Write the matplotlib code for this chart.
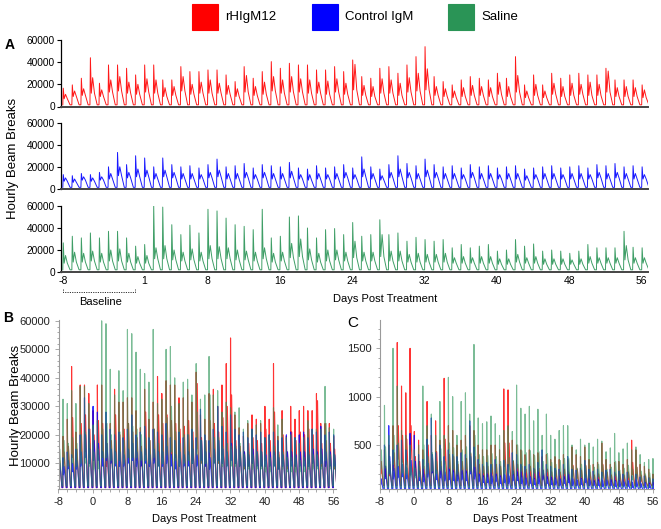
import numpy as np
import matplotlib
matplotlib.use('Agg')
import matplotlib.pyplot as plt
from matplotlib.patches import Rectangle
from matplotlib.lines import Line2D
from matplotlib.ticker import AutoMinorLocator
import matplotlib.transforms as mtransforms

plt.rcParams['font.family'] = ['Liberation Sans', 'DejaVu Sans']

# ---------------- data ----------------
days = list(range(-8, 57))          # day index of each daily activity cycle
series_names = ['rHIgM12', 'Control IgM', 'Saline']

# Hourly beam breaks (thousands): daily peak, secondary bump, shoulder level
red_peak = [16.5, 19.5, 25.5, 44, 21, 37.5, 37.5, 34.5,
            28.5, 37.5, 37.5, 24, 24, 36, 31.5, 31.5,
            33, 33, 28.5, 22.5, 36, 25.5, 31.5, 40.5,
            34.5, 39, 37.5, 37.5, 33, 33, 36, 31.5,
            42, 27, 25.5, 34.5, 36, 30, 37.5, 45,
            54, 27, 22.5, 19.5, 24, 27, 25.5, 24,
            30, 25.5, 45, 19.5, 28.5, 19.5, 30, 25.5,
            28.5, 30, 28.5, 28.5, 34.5, 24, 24, 24, 19.5]
red_second = [11, 14, 16, 26, 15, 24, 27, 22,
              20, 25, 24, 17, 18, 27, 20, 22,
              24, 21, 19, 16, 28, 18, 22, 27,
              24, 27, 25, 24, 22, 23, 25, 21,
              38, 19, 18, 25, 24, 21, 26, 30,
              34, 18, 16, 14, 17, 19, 18, 17,
              22, 18, 28, 14, 20, 14, 21, 18,
              21, 20, 22, 20, 32, 17, 18, 17, 15]
red_shoulder = [7, 9, 10, 12, 9, 13, 14, 12,
                11, 13, 12, 9, 10, 14, 11, 12,
                12, 12, 11, 9, 13, 10, 11, 14,
                12, 13, 13, 12, 12, 11, 13, 11,
                15, 10, 9, 12, 12, 10, 13, 14,
                15, 10, 9, 8, 9, 10, 10, 9,
                11, 9, 13, 8, 10, 8, 11, 9,
                10, 11, 10, 10, 13, 9, 9, 9, 8]
red_low = 1.5

blue_peak = [13, 12, 14, 13, 15, 20, 33, 22,
             30, 28, 20, 28, 22, 20, 21, 19,
             22, 27, 20, 21, 23, 19, 22, 21,
             20, 24, 19, 18, 21, 19, 20, 22,
             19, 29, 20, 18, 22, 30, 23, 21,
             27, 22, 20, 21, 19, 22, 20, 21,
             19, 20, 21, 18, 19, 20, 21, 19,
             20, 21, 19, 22, 21, 23, 20, 21, 20]
blue_second = [10, 9, 11, 10, 11, 14, 20, 15,
               18, 17, 14, 17, 15, 14, 14, 13,
               15, 17, 14, 14, 15, 13, 15, 14,
               14, 16, 13, 13, 14, 13, 14, 15,
               13, 18, 14, 12, 15, 18, 15, 14,
               17, 15, 14, 14, 13, 15, 14, 14,
               13, 14, 14, 12, 13, 14, 14, 13,
               14, 14, 13, 15, 14, 15, 14, 14, 13]
blue_shoulder = [7, 6, 8, 7, 8, 9, 12, 10,
                 11, 11, 9, 11, 10, 9, 9, 9,
                 10, 11, 9, 9, 10, 9, 10, 9,
                 9, 10, 9, 8, 9, 9, 9, 10,
                 9, 11, 9, 8, 10, 11, 10, 9,
                 11, 10, 9, 9, 9, 10, 9, 9,
                 9, 9, 9, 8, 9, 9, 9, 9,
                 9, 9, 9, 10, 9, 10, 9, 9, 9]
blue_low = 1.5

green_peak = [26.5, 32.5, 31, 35.5, 31, 37, 37, 31,
              23.5, 25, 60, 59, 43, 34, 42.5, 35.5,
              57, 55.5, 49, 43, 41.5, 38.5, 57, 31,
              32.5, 50, 51, 40, 31, 38.5, 39.5, 34,
              45, 32.5, 34, 47.5, 34, 35.5, 28, 31.5,
              29.5, 28, 29.5, 22, 25, 22, 23.5, 25,
              19, 20, 29.5, 23.5, 25.5, 19, 20, 19,
              17, 19, 25, 22, 22, 22, 37, 22.5, 22]
green_second = [15, 18, 17, 19, 17, 20, 21, 17,
                14, 15, 22, 24, 20, 18, 21, 18,
                24, 23, 22, 20, 19, 18, 22, 17,
                18, 26, 30, 21, 17, 20, 20, 18,
                28, 18, 18, 34, 19, 19, 16, 17,
                16, 16, 17, 13, 14, 13, 14, 14,
                12, 12, 16, 13, 14, 12, 12, 12,
                11, 12, 14, 13, 13, 13, 24, 13, 13]
green_shoulder = [8, 9, 9, 10, 9, 10, 10, 9,
                  8, 8, 12, 12, 11, 10, 11, 10,
                  12, 12, 12, 11, 11, 10, 12, 9,
                  10, 13, 14, 11, 9, 10, 11, 10,
                  13, 10, 10, 14, 10, 10, 9, 9,
                  9, 9, 9, 8, 8, 8, 8, 8,
                  7, 7, 9, 8, 8, 7, 7, 7,
                  7, 7, 8, 8, 8, 8, 11, 8, 8]
green_low = 2.0

# Panel C measure (units)
c_red_peak = [550, 450, 500, 700, 1560, 1110, 1040, 1500,
              640, 550, 450, 950, 600, 750, 550, 1190,
              700, 650, 500, 550, 600, 700, 650, 500,
              450, 450, 500, 500, 450, 1080, 1070, 550,
              500, 450, 400, 450, 400, 420, 380, 400,
              350, 380, 350, 400, 350, 480, 400, 380,
              480, 350, 300, 320, 520, 350, 300, 320,
              330, 300, 350, 550, 450, 300, 280, 250, 200]
c_red_second = [330, 280, 300, 420, 700, 600, 560, 700,
                380, 330, 280, 500, 360, 430, 330, 560,
                400, 380, 300, 330, 360, 410, 380, 300,
                280, 280, 300, 300, 280, 520, 520, 330,
                300, 280, 250, 280, 250, 260, 240, 250,
                220, 240, 220, 250, 220, 290, 250, 240,
                290, 220, 190, 200, 300, 220, 190, 200,
                200, 190, 220, 320, 270, 190, 180, 160, 130]
c_red_shoulder = [200, 170, 180, 240, 350, 320, 300, 360,
                  220, 200, 170, 280, 210, 240, 200, 300,
                  230, 220, 180, 200, 210, 230, 220, 180,
                  170, 170, 180, 180, 170, 280, 280, 190,
                  180, 170, 150, 170, 150, 160, 150, 150,
                  140, 150, 140, 150, 140, 170, 150, 150,
                  170, 140, 120, 130, 180, 140, 120, 130,
                  130, 120, 140, 190, 160, 120, 110, 100, 90]
c_red_low = 80

c_blue_peak = [250, 500, 700, 450, 500, 550, 450, 620,
               600, 400, 350, 560, 780, 420, 500, 380,
               450, 400, 380, 420, 400, 750, 480, 350,
               300, 320, 300, 350, 300, 340, 300, 420,
               400, 300, 280, 300, 260, 320, 450, 300,
               280, 260, 250, 300, 380, 250, 240, 260,
               340, 250, 230, 250, 220, 240, 250, 220,
               230, 200, 220, 180, 200, 170, 180, 160, 150]
c_blue_second = [150, 280, 380, 260, 280, 300, 260, 340,
                 330, 230, 200, 310, 400, 240, 280, 220,
                 250, 230, 220, 240, 230, 380, 270, 200,
                 180, 190, 180, 200, 180, 190, 180, 230,
                 220, 180, 160, 170, 150, 180, 240, 170,
                 160, 150, 150, 170, 200, 150, 140, 150,
                 190, 140, 130, 140, 130, 140, 140, 130,
                 130, 120, 130, 110, 120, 100, 110, 100, 90]
c_blue_shoulder = [90, 150, 200, 150, 160, 170, 150, 190,
                   180, 130, 120, 170, 210, 140, 160, 130,
                   140, 130, 130, 140, 130, 200, 150, 120,
                   110, 110, 100, 120, 100, 110, 100, 130,
                   130, 100, 90, 100, 90, 100, 140, 100,
                   90, 90, 80, 100, 110, 80, 80, 90,
                   110, 80, 80, 80, 70, 80, 80, 70,
                   70, 70, 70, 60, 70, 60, 60, 60, 50]
c_blue_low = 30

c_green_peak = [860, 910, 600, 1500, 1110, 650, 600, 500,
                450, 500, 1110, 700, 820, 600, 950, 600,
                1200, 1000, 600, 950, 1040, 820, 1540, 780,
                720, 740, 800, 720, 600, 650, 700, 640,
                1120, 880, 820, 900, 750, 870, 600, 820,
                600, 560, 650, 700, 700, 500, 450, 560,
                500, 520, 480, 560, 540, 430, 470, 620,
                420, 460, 520, 450, 480, 400, 320, 350, 360]
c_green_second = [450, 480, 330, 600, 520, 350, 330, 280,
                  260, 280, 500, 380, 420, 330, 460, 330,
                  520, 470, 330, 450, 480, 420, 600, 400,
                  380, 390, 410, 380, 330, 350, 370, 340,
                  500, 440, 420, 440, 390, 430, 330, 410,
                  320, 300, 340, 360, 360, 280, 260, 300,
                  280, 290, 270, 300, 290, 250, 270, 330,
                  240, 260, 290, 250, 270, 230, 200, 210, 210]
c_green_shoulder = [250, 260, 200, 300, 280, 210, 200, 170,
                    160, 170, 260, 210, 230, 200, 240, 200,
                    270, 250, 200, 240, 250, 230, 280, 220,
                    210, 210, 220, 210, 190, 200, 210, 200,
                    260, 230, 220, 230, 210, 230, 190, 220,
                    180, 170, 190, 200, 200, 160, 150, 170,
                    160, 160, 150, 170, 160, 140, 150, 180,
                    140, 150, 160, 140, 150, 130, 120, 120, 120]
c_green_low = 60

x_ticks = [-8, 1, 8, 16, 24, 32, 40, 48, 56]
x_ticks_bc = [-8, 0, 8, 16, 24, 32, 40, 48, 56]
a_yticks = [0, 20000, 40000, 60000]
b_yticks = [10000, 20000, 30000, 40000, 50000, 60000]
c_yticks = [500, 1000, 1500]

colors = ['#FF0000', '#0000FF', '#2A9456']

# ---------------- build cycles ----------------
def cycle(peak, second, shoulder, low, scale):
    offs = [0.0, 0.05, 0.15, 0.30, 0.50, 0.80]
    xs, ys = [], []
    for i, d in enumerate(days):
        vals = [low, peak[i], shoulder[i], second[i], shoulder[i], low]
        for o, v in zip(offs, vals):
            xs.append(d + o)
            ys.append(v * scale)
    return np.array(xs), np.array(ys)

A_series = [cycle(red_peak, red_second, red_shoulder, red_low, 1000),
            cycle(blue_peak, blue_second, blue_shoulder, blue_low, 1000),
            cycle(green_peak, green_second, green_shoulder, green_low, 1000)]
C_series = [cycle(c_red_peak, c_red_second, c_red_shoulder, c_red_low, 1),
            cycle(c_blue_peak, c_blue_second, c_blue_shoulder, c_blue_low, 1),
            cycle(c_green_peak, c_green_second, c_green_shoulder, c_green_low, 1)]

# ---------------- figure ----------------
W, H = 661, 529
fig = plt.figure(figsize=(W / 100, H / 100), dpi=100)

def ax_px(l, t, r, b):
    return fig.add_axes([l / W, 1 - b / H, (r - l) / W, (b - t) / H])

def ftext(x, y, s, **kw):
    fig.text(x / W, 1 - y / H, s, **kw)

strips = [(40, 106.5), (122.5, 189), (206, 272)]
for k, (t, b) in enumerate(strips):
    ax = ax_px(61, t, 648, b)
    xs, ys = A_series[k]
    ax.plot(xs, ys, color=colors[k], lw=0.7, alpha=0.9)
    ax.set_xlim(-8.2, 56.7)
    ax.set_ylim(0, 60000)
    ax.set_yticks(a_yticks)
    ax.set_yticklabels([str(v) for v in a_yticks])
    for s in ['top', 'right']:
        ax.spines[s].set_visible(False)
    ax.spines['left'].set_color('black')
    ax.spines['left'].set_linewidth(0.9)
    ax.spines['bottom'].set_color('#444444')
    ax.spines['bottom'].set_linewidth(1.4)
    ax.tick_params(axis='y', labelsize=7.3, length=3, width=0.8, pad=1.5)
    ax.set_xticks(x_ticks)
    if k < 2:
        ax.tick_params(axis='x', length=0, labelbottom=False)
    else:
        ax.set_xticklabels([str(v) for v in x_ticks])
        ax.tick_params(axis='x', length=0, labelsize=7.5, pad=3)
        tr = mtransforms.blended_transform_factory(ax.transData, fig.transFigure)
        yb = 1 - 291.5 / H
        yt = 1 - 288.5 / H
        fig.add_artist(Line2D([-8, -8, 0, 0], [yt, yb, yb, yt], transform=tr,
                              color='#333333', lw=0.7, ls=(0, (1.2, 1.2))))

ftext(10, 45, 'A', fontsize=10, weight='bold', ha='center', va='center')
ftext(13, 158, 'Hourly Beam Breaks', fontsize=9.5, rotation=90, ha='center', va='center')
ftext(385, 299, 'Days Post Treatment', fontsize=8, ha='center', va='center')
ftext(101, 302, 'Baseline', fontsize=8, ha='center', va='center')

# Panels B and C: overlaid series
order = [0, 1, 2]
alphas = [0.8, 0.8, 0.62]
axB = ax_px(58.5, 320, 336, 489)
for k in order:
    xs, ys = A_series[k]
    axB.plot(xs, ys, color=colors[k], lw=0.8, alpha=alphas[k])
axB.set_xlim(-8, 56.6)
axB.set_ylim(1000, 60300)
axB.set_yticks(b_yticks)
axB.set_yticklabels([str(v) for v in b_yticks])
axB.set_xticks(x_ticks_bc)
axB.set_xticklabels([str(v) for v in x_ticks_bc])

axC = ax_px(380, 320, 654, 489)
for k in order:
    xs, ys = C_series[k]
    axC.plot(xs, ys, color=colors[k], lw=0.8, alpha=alphas[k])
axC.set_xlim(-8, 56.3)
axC.set_ylim(45, 1793)
axC.set_yticks(c_yticks)
axC.set_yticklabels([str(v) for v in c_yticks])
axC.set_xticks(x_ticks_bc)
axC.set_xticklabels([str(v) for v in x_ticks_bc])

for ax in (axB, axC):
    for s in ['top', 'right']:
        ax.spines[s].set_visible(False)
    for s in ['left', 'bottom']:
        ax.spines[s].set_color('#9a9a9a')
        ax.spines[s].set_linewidth(0.8)
    ax.yaxis.set_minor_locator(AutoMinorLocator(5))
    ax.xaxis.set_minor_locator(AutoMinorLocator(4))
    ax.tick_params(which='both', colors='#9a9a9a', labelcolor='#222222', width=0.6)
    ax.tick_params(which='major', length=3, labelsize=8, pad=3)
    ax.tick_params(which='minor', length=1.8)

ftext(8, 318, 'B', fontsize=10, weight='bold', ha='center', va='center')
ftext(16, 405, 'Hourly Beam Breaks', fontsize=9.5, rotation=90, ha='center', va='center')
ftext(204, 519, 'Days Post Treatment', fontsize=8, ha='center', va='center')
ftext(353, 323, 'C', fontsize=11, ha='center', va='center')
ftext(525, 519, 'Days Post Treatment', fontsize=8, ha='center', va='center')

# Legend
leg_x = [192, 312, 448]
for k, name in enumerate(series_names):
    x0 = leg_x[k]
    fig.add_artist(Rectangle((x0 / W, 1 - 30 / H), 26 / W, 26 / H,
                             transform=fig.transFigure, facecolor=colors[k],
                             edgecolor=colors[k], lw=0.8, alpha=1))
    ftext(x0 + 33, 17, name, fontsize=9.5, ha='left', va='center')

fig.savefig('out.png', dpi=100)
